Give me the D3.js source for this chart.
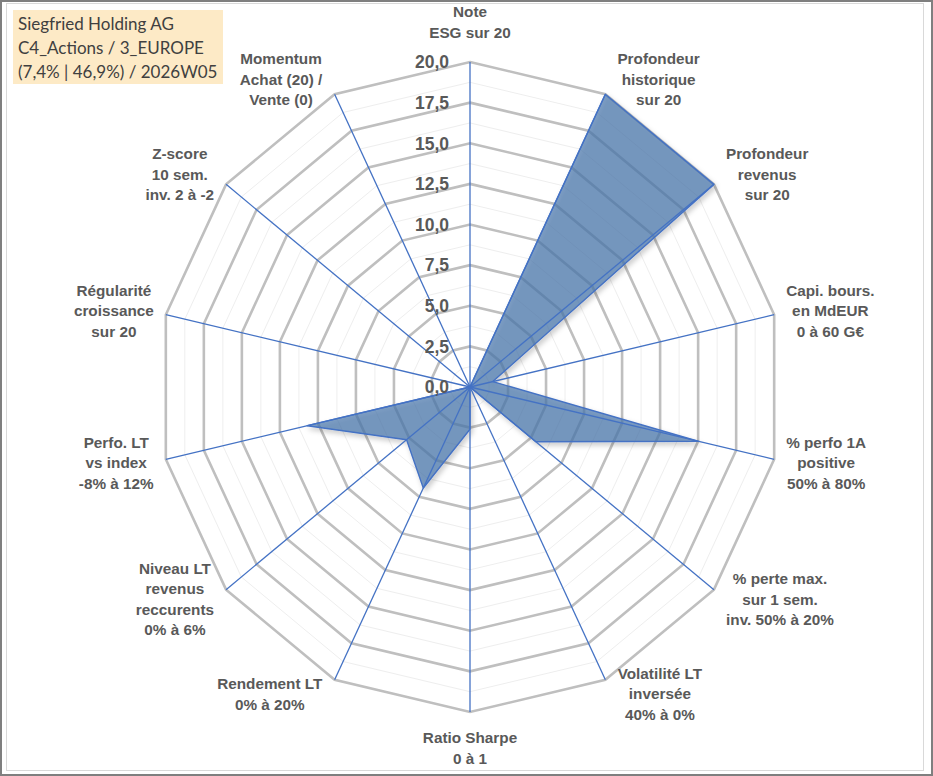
<!DOCTYPE html>
<html>
<head>
<meta charset="utf-8">
<script src="https://cdn.jsdelivr.net/npm/d3@7"></script>
<style>
  body { margin: 0; background: #fff; }
  svg { display: block; }
</style>
</head>
<body>
<script>
// SVG Size
var width = 933,
    height = 776;

// Axis labels, clockwise from the top
var categories = [
  ["Note", "ESG sur 20"],
  ["Profondeur", "historique", "sur 20"],
  ["Profondeur", "revenus", "sur 20"],
  ["Capi. bours.", "en MdEUR", "0 à 60 G€"],
  ["% perfo 1A", "positive", "50% à 80%"],
  ["% perte max.", "sur 1 sem.", "inv. 50% à 20%"],
  ["Volatilité LT", "inversée", "40% à 0%"],
  ["Ratio Sharpe", "0 à 1"],
  ["Rendement LT", "0% à 20%"],
  ["Niveau LT", "revenus", "reccurents", "0% à 6%"],
  ["Perfo. LT", "vs index", "-8% à 12%"],
  ["Régularité", "croissance", "sur 20"],
  ["Z-score", "10 sem.", "inv. 2 à -2"],
  ["Momentum", "Achat (20) /", "Vente (0)"]
];

// Scores (same order)
var scores = [0, 20, 20, 1.5, 15, 5.4, 0, 2.6, 6.9, 5.2, 10.7, 0, 0, 0];

// Rings
var majorTicks = [0, 2.5, 5, 7.5, 10, 12.5, 15, 17.5, 20];
var minorTicks = [1.25, 3.75, 6.25, 8.75, 11.25, 13.75, 16.25, 18.75];

var titleLines = ["Siegfried Holding AG", "C4_Actions / 3_EUROPE", "(7,4% | 46,9%) / 2026W05"];

var n = categories.length;
var cx = 470, cy = 387;

var svg = d3.select("body").append("svg")
  .attr("width", width)
  .attr("height", height);

var defs = svg.append("defs");
defs.append("filter")
  .attr("id", "shadow")
  .attr("x", "-10%").attr("y", "-10%")
  .attr("width", "130%").attr("height", "130%")
  .append("feDropShadow")
    .attr("dx", 2).attr("dy", 3)
    .attr("stdDeviation", 2.5)
    .attr("flood-color", "#000")
    .attr("flood-opacity", 0.25);

// Frame
svg.append("rect")
  .attr("x", 1).attr("y", 1)
  .attr("width", width - 2).attr("height", height - 2)
  .attr("fill", "#fff")
  .attr("stroke", "#7f7f7f")
  .attr("stroke-width", 2);
svg.append("rect")
  .attr("x", 6.5).attr("y", 3.5)
  .attr("width", 917).attr("height", 767)
  .attr("fill", "none")
  .attr("stroke", "#d9d9d9")
  .attr("stroke-width", 1);

// Scales (the picture is a bit narrower than it is tall)
var rX = d3.scaleLinear().domain([0, 20]).range([0, 312]);
var rY = d3.scaleLinear().domain([0, 20]).range([0, 325]);
var angle = d3.scaleLinear().domain([0, n]).range([0, 2 * Math.PI]);

function point(i, v) {
  var a = angle(i);
  return [cx + rX(v) * Math.sin(a), cy - rY(v) * Math.cos(a)];
}

var idx = d3.range(n);
var ring = function(v) {
  return d3.line().curve(d3.curveLinearClosed)(idx.map(function(i){ return point(i, v); }));
};

// Minor gridlines
svg.append("g").selectAll("path")
  .data(minorTicks)
  .enter().append("path")
    .attr("d", ring)
    .attr("fill", "none")
    .attr("stroke", "#eeeeee")
    .attr("stroke-width", 1);

// Major gridlines
svg.append("g").selectAll("path")
  .data(majorTicks.filter(function(t){ return t > 0; }))
  .enter().append("path")
    .attr("d", ring)
    .attr("fill", "none")
    .attr("stroke", "#bfbfbf")
    .attr("stroke-width", 2.6)
    .attr("stroke-linejoin", "miter");

// Series
var area = d3.line().curve(d3.curveLinearClosed);
svg.append("path")
  .datum(scores.map(function(v, i){ return point(i, v); }))
  .attr("d", area)
  .attr("fill", "#4a76ad")
  .attr("fill-opacity", 0.7)
  .attr("stroke", "#4472c4")
  .attr("stroke-width", 1.4)
  .attr("stroke-linejoin", "round")
  .attr("filter", "url(#shadow)");

// Spokes
svg.append("g").selectAll("line")
  .data(idx)
  .enter().append("line")
    .attr("x1", cx).attr("y1", cy)
    .attr("x2", function(i){ return point(i, 20)[0]; })
    .attr("y2", function(i){ return point(i, 20)[1]; })
    .attr("stroke", "#4472c4")
    .attr("stroke-width", 1.3);

// Value labels with a French decimal comma
var fr = d3.formatLocale({decimal: ",", thousands: " ", grouping: [3], currency: ["", " €"]});
var fmt = fr.format(".1f");

svg.append("g").selectAll("text")
  .data(majorTicks)
  .enter().append("text")
    .attr("x", cx - 21)
    .attr("y", function(t){ return cy - rY(t); })
    .attr("dy", "0.36em")
    .attr("text-anchor", "end")
    .attr("font-family", "Liberation Sans, Arial, sans-serif")
    .attr("font-weight", "bold")
    .attr("font-size", "17.5px")
    .attr("fill", "#595959")
    .text(fmt);

// Category labels
var lineH = 20.5, gap = 12;
var labels = svg.append("g").selectAll("text")
  .data(categories)
  .enter().append("text")
    .attr("font-family", "Liberation Sans, Arial, sans-serif")
    .attr("font-weight", "bold")
    .attr("font-size", "15.3px")
    .attr("fill", "#595959")
    .attr("text-anchor", "middle");

labels.each(function(lines, i) {
  var t = d3.select(this);
  lines.forEach(function(s, k) {
    t.append("tspan").attr("x", 0).attr("y", k * lineH).text(s);
  });
  var w = this.getBBox().width;
  var h = lines.length * lineH;
  var p = point(i, 20);
  var a = angle(i);
  var s = Math.sin(a), c = Math.cos(a);
  var bx, by;
  if (Math.abs(s) < 0.05) {
    bx = p[0];
    by = c > 0 ? p[1] - 19 - h / 2 : p[1] + 16 + h / 2;
  } else {
    bx = s > 0 ? p[0] + gap + w / 2 : p[0] - gap - w / 2;
    by = p[1] - c * 16;
  }
  // first baseline from the block centre
  var y0 = by - h / 2 + lineH * 0.75;
  t.attr("transform", "translate(" + bx + "," + y0 + ")");
});

// Title box
svg.append("rect")
  .attr("x", 13).attr("y", 10)
  .attr("width", 210).attr("height", 74)
  .attr("fill", "#fdeac6");

svg.append("g").selectAll("text")
  .data(titleLines)
  .enter().append("text")
    .attr("x", 18)
    .attr("y", function(d, i){ return 30 + i * 24; })
    .attr("font-family", "Lato, Open Sans, sans-serif")
    .attr("font-size", "17px")
    .attr("fill", "#404040")
    .text(function(d){ return d; });
</script>
</body>
</html>
